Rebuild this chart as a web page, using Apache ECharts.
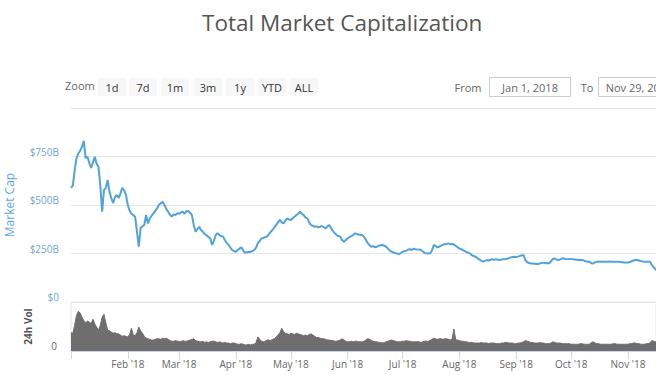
<!DOCTYPE html>
<html>
<head>
<meta charset="utf-8">
<script src="https://cdn.jsdelivr.net/npm/echarts@6/dist/echarts.min.js"></script>
<style>
html,body{margin:0;padding:0;background:#fff;}
#chart{width:656px;height:375px;}
</style>
</head>
<body>
<div id="chart"></div>
<script>
// Daily total market cap (billions USD), Jan 1 2018 .. Nov 29 2018
const capValues = [
588,600,680,740,765,780,800,831,742,749,
716,691,720,749,712,697,600,465,577,588,
629,569,535,510,540,552,536,560,589,575,
552,500,470,455,448,440,362,285,381,390,
397,448,405,430,445,457,470,483,500,509,
517,500,480,465,450,440,452,448,457,455,
462,465,455,468,469,460,448,397,362,375,
388,370,362,350,345,335,328,294,315,345,
354,345,340,337,320,305,294,280,268,262,
259,268,275,282,265,254,256,259,258,262,
268,280,303,315,328,330,335,337,350,362,
371,385,397,410,423,410,405,420,431,425,
423,432,440,448,455,465,455,448,435,431,
410,397,392,388,390,385,388,392,385,380,
390,397,380,365,354,345,340,337,318,311,
320,328,335,340,345,354,350,348,345,345,
335,320,303,292,285,288,282,285,290,292,
294,290,285,275,265,259,255,252,250,247,
252,259,262,265,270,272,268,274,272,270,
271,268,260,253,251,250,251,265,294,288,
282,285,290,295,298,299,302,298,299,296,
290,282,276,272,268,262,256,254,248,240,
237,232,225,218,212,208,212,216,214,218,
220,217,221,218,216,219,220,221,223,226,
230,232,233,232,234,238,240,242,215,205,
201,199,198,197,196,196,199,201,203,200,
201,199,210,222,225,219,216,220,225,224,
222,221,222,221,220,219,218,217,216,217,
213,210,208,208,200,199,204,208,207,208,
209,208,207,208,209,208,207,208,208,207,
206,205,204,203,203,206,210,214,216,216,
214,211,209,208,208,208,207,191,180,168,
162,160,155,145,140,130,125,128,135,140,
138,136,135
];
// Daily 24h volume (billions USD)
const volValues = [
30,29,42,58,65,62,55,50,46,49,
47,45,52,44,39,34,42,55,60,46,
34,33,31,29,30,28,28,26,24,25,
24,23,27,37,26,25,30,39,33,29,
24,21,20,19,18,18,19,20,20,19,
21,20,21,19,17,16,16,17,16,16,
15,17,16,16,17,18,19,20,17,16,
15,15,16,14,15,14,15,16,16,15,
14,15,14,13,14,13,13,12,13,13,
12,11,11,12,11,10,10,11,10,11,
11,14,23,19,16,15,16,18,18,17,
19,20,23,26,30,37,32,29,28,27,
29,28,27,29,28,27,26,25,26,25,
27,28,26,24,22,22,21,20,20,19,
18,18,17,17,16,16,17,18,20,18,
16,15,15,16,15,16,16,15,15,15,
16,18,20,19,17,16,15,15,14,14,
13,14,15,16,17,18,17,16,15,15,
15,16,16,17,16,16,15,15,15,15,
15,14,15,16,16,16,17,19,21,20,
19,20,20,19,20,20,19,18,19,36,
18,18,17,16,16,15,15,14,14,14,
13,13,13,13,14,13,13,13,12,13,
13,13,12,12,12,13,13,14,14,13,
13,13,12,12,13,13,14,15,17,16,
15,14,14,13,13,13,14,13,13,12,
12,12,13,15,14,13,13,13,12,12,
12,12,12,11,11,11,11,11,12,12,
11,11,11,11,14,15,13,12,12,11,
11,11,11,11,11,11,12,12,11,11,
11,11,11,11,11,12,12,13,13,12,
12,11,11,11,12,12,13,17,16,15,
16,17,20,18,17,17,18,16,15,15,
14,14,13
];
const monthLabels = ['', "Feb '18", "Mar '18", "Apr '18", "May '18", "Jun '18", "Jul '18", "Aug '18", "Sep '18", "Oct '18", "Nov '18", "Dec '18"];
const capTicks = [0, 250, 500, 750, 1000];
const capTickLabels = ['$0', '$250B', '$500B', '$750B', ''];
const rangeButtons = ['1d', '7d', '1m', '3m', '1y', 'YTD', 'ALL'];
const fromText = 'Jan 1, 2018';
const toText = 'Nov 29, 2018';
// the reference picture is cropped on the right: visible time window in days from Jan 1
const visibleDays = 319.3;

const DAY = 86400000;
const start = new Date(2018, 0, 1).getTime();
const viewEnd = start + visibleDays * DAY;
const capData = capValues.map((v, i) => [start + i * DAY, v]);
const volData = volValues.map((v, i) => [start + i * DAY, v]);

const FONT = 'Open Sans';
const btnCenters = [112, 143, 175, 208, 240, 272, 304];
const graphics = [
  {type: 'text', left: 65, top: 80, style: {text: 'Zoom', fill: '#666', font: '11px "' + FONT + '"'}}
];
rangeButtons.forEach((b, i) => {
  graphics.push({type: 'rect', shape: {x: btnCenters[i] - 14, y: 78, width: 28, height: 18, r: 2}, style: {fill: '#f7f7f7'}});
  graphics.push({type: 'text', x: btnCenters[i], y: 87, style: {text: b, fill: '#333', font: '11px "' + FONT + '"', align: 'center', verticalAlign: 'middle'}});
});
graphics.push({type: 'text', x: 468, y: 87, style: {text: 'From', fill: '#666', font: '11px "' + FONT + '"', align: 'center', verticalAlign: 'middle'}});
graphics.push({type: 'rect', shape: {x: 489.5, y: 77.5, width: 81, height: 19}, style: {fill: '#fff', stroke: '#cccccc', lineWidth: 1}});
graphics.push({type: 'text', x: 530, y: 87, style: {text: fromText, fill: '#666', font: '11px "' + FONT + '"', align: 'center', verticalAlign: 'middle'}});
graphics.push({type: 'text', x: 587, y: 87, style: {text: 'To', fill: '#666', font: '11px "' + FONT + '"', align: 'center', verticalAlign: 'middle'}});
graphics.push({type: 'rect', shape: {x: 598.5, y: 77.5, width: 81, height: 19}, style: {fill: '#fff', stroke: '#cccccc', lineWidth: 1}});
graphics.push({type: 'text', x: 639, y: 87, style: {text: toText, fill: '#666', font: '11px "' + FONT + '"', align: 'center', verticalAlign: 'middle'}});

const chart = echarts.init(document.getElementById('chart'), null, {renderer: 'svg'});
chart.setOption({
  animation: false,
  backgroundColor: '#fff',
  title: {
    text: 'Total Market Capitalization',
    left: 197,
    top: 6,
    textStyle: {fontSize: 22.5, fontWeight: 'normal', color: '#555', fontFamily: FONT}
  },
  graphic: graphics,
  grid: [
    {left: 71, right: 0, top: 108, height: 194, outerBoundsMode: 'none', containLabel: false},
    {left: 71, right: 0, top: 302, height: 49, show: true, borderColor: '#e6e6e6', borderWidth: 1, outerBoundsMode: 'none', containLabel: false}
  ],
  xAxis: [
    {type: 'time', gridIndex: 0, min: start, max: viewEnd, axisLine: {show: false}, axisTick: {show: false}, axisLabel: {show: false}, splitLine: {show: false}},
    {type: 'time', gridIndex: 1, min: start, max: viewEnd,
      minInterval: 28 * DAY, maxInterval: 31 * DAY,
      axisLine: {show: true, lineStyle: {color: '#ccd6eb'}},
      axisTick: {show: true, length: 8, lineStyle: {color: '#ccd6eb'}},
      splitLine: {show: false},
      axisLabel: {
        color: '#666', fontSize: 10, fontFamily: FONT, margin: 8, showMaxLabel: false,
        formatter: function (val) { const d = new Date(val); return d.getDate() === 1 ? monthLabels[d.getMonth()] : ''; }
      }
    }
  ],
  yAxis: [
    {type: 'value', gridIndex: 0, min: 0, max: 1000, interval: 250,
      name: 'Market Cap', nameLocation: 'middle', nameGap: 56,
      nameTextStyle: {color: '#5ea7de', fontSize: 12, fontFamily: FONT},
      axisLine: {show: false}, axisTick: {show: false},
      splitLine: {lineStyle: {color: '#e6e6e6'}},
      axisLabel: {color: '#6ea6d6', fontSize: 10, fontFamily: FONT, margin: 12, verticalAlign: 'bottom',
        formatter: function (v) { return capTickLabels[capTicks.indexOf(v)]; }}
    },
    {type: 'value', gridIndex: 1, min: 0, max: 80, interval: 80,
      name: '24h Vol', nameLocation: 'middle', nameGap: 38,
      nameTextStyle: {color: '#555', fontSize: 10, fontFamily: FONT, fontWeight: 'bold'},
      axisLine: {show: false}, axisTick: {show: false}, splitLine: {show: false},
      axisLabel: {color: '#666', fontSize: 10, fontFamily: FONT, margin: 14, verticalAlign: 'bottom',
        formatter: function (v) { return v === 0 ? '0' : ''; }}
    }
  ],
  series: [
    {type: 'line', xAxisIndex: 0, yAxisIndex: 0, data: capData, showSymbol: false, symbol: 'none', clip: true,
      lineStyle: {color: '#52a2db', width: 2}, itemStyle: {color: '#52a2db'}},
    {type: 'line', xAxisIndex: 1, yAxisIndex: 1, data: volData, showSymbol: false, symbol: 'none', clip: true,
      lineStyle: {color: '#6e6e6e', width: 1}, itemStyle: {color: '#6e6e6e'}, areaStyle: {color: '#6e6e6e', opacity: 1}}
  ]
});
</script>
</body>
</html>
